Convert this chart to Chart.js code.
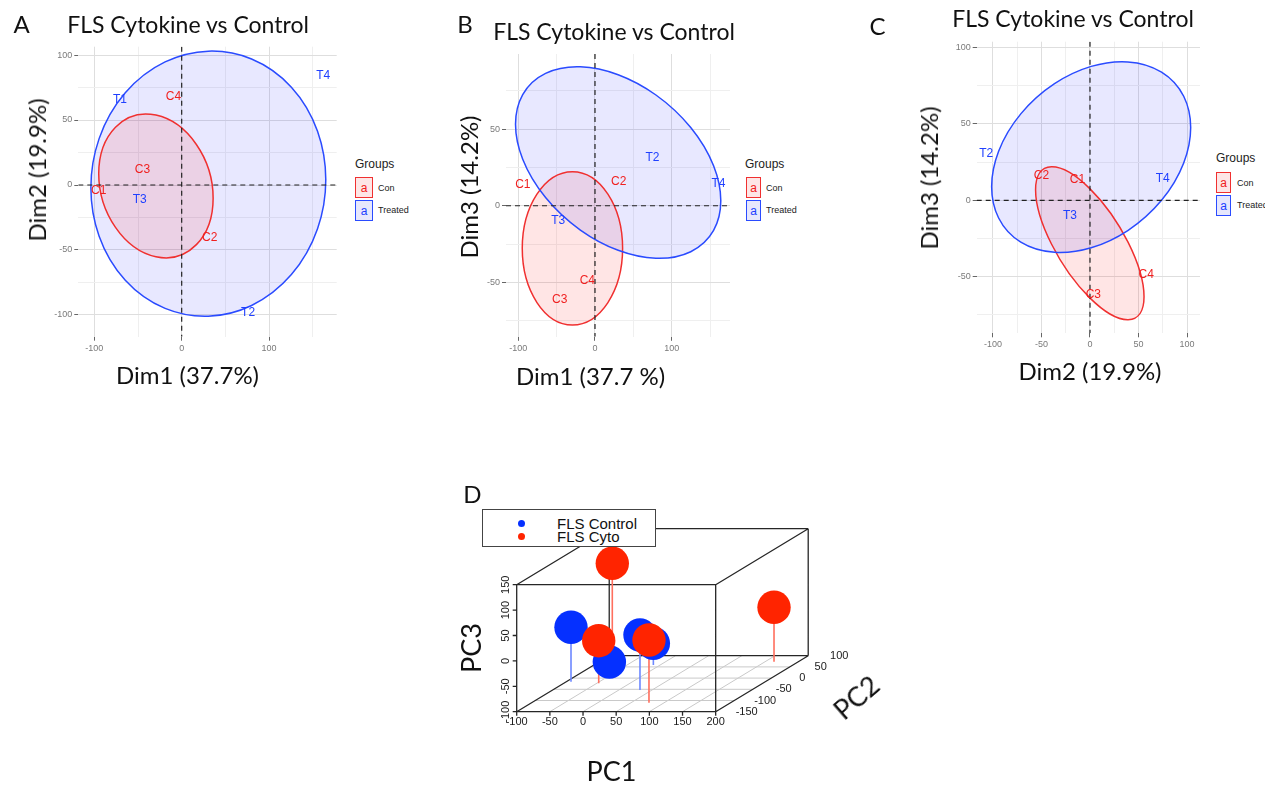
<!DOCTYPE html>
<html>
<head>
<meta charset="utf-8">
<title>FLS Cytokine vs Control PCA</title>
<script src="https://cdn.jsdelivr.net/npm/chart.js@4.4.1/dist/chart.umd.min.js"></script>
<style>
  body { margin: 0; width: 1265px; height: 786px; background: #fff; position: relative; overflow: hidden; }
  canvas { position: absolute; }
  .t { position: absolute; white-space: nowrap; line-height: 1; transform: translate(-50%, -50%); font-family: Lato, sans-serif; color: #111; }
  .rot { transform: translate(-50%, -50%) rotate(-90deg); }
  .lg { position: absolute; white-space: nowrap; line-height: 1; transform: translateY(-50%); font-family: "Liberation Sans", Arial, sans-serif; color: #222; }
  .key { position: absolute; box-sizing: border-box; border: 1.5px solid; display: flex; align-items: center; justify-content: center; font: 12px "Liberation Sans", Arial, sans-serif; }
  .key.con { border-color: #f03030; background: #fde6e6; color: #f02020; }
  .key.trt { border-color: #2a4bff; background: #e6e7fc; color: #2040ff; }
  #legD { position: absolute; left: 482px; top: 509px; width: 174px; height: 38px; box-sizing: border-box; border: 1px solid #444; background: #fff; }
  .dot { position: absolute; width: 7px; height: 7px; border-radius: 50%; }
</style>
</head>
<body>

<canvas id="panelA" width="345" height="370" style="left:0;top:0"></canvas>
<canvas id="panelB" width="310" height="370" style="left:430px;top:0"></canvas>
<canvas id="panelC" width="310" height="370" style="left:900px;top:0"></canvas>
<canvas id="panelD" width="440" height="316" style="left:460px;top:470px"></canvas>

<!-- panel A text -->
<div class="t" style="left:21.5px;top:23.5px;font-size:24px">A</div>
<div class="t" style="left:188px;top:24px;font-size:23px">FLS Cytokine vs Control</div>
<div class="t rot" style="left:36.7px;top:170px;font-size:24px">Dim2 (19.9%)</div>
<div class="t" style="left:187.5px;top:375px;font-size:24px">Dim1 (37.7%)</div>
<div class="lg" style="left:355px;top:164px;font-size:12px">Groups</div>
<div class="key con" style="left:355px;top:177px;width:18px;height:21px">a</div>
<div class="key trt" style="left:355px;top:200px;width:18px;height:21px">a</div>
<div class="lg" style="left:378px;top:188px;font-size:9px">Con</div>
<div class="lg" style="left:378px;top:210px;font-size:9px">Treated</div>

<!-- panel B text -->
<div class="t" style="left:465px;top:23.5px;font-size:24px">B</div>
<div class="t" style="left:614px;top:31px;font-size:23px">FLS Cytokine vs Control</div>
<div class="t rot" style="left:469px;top:187px;font-size:24px">Dim3 (14.2%)</div>
<div class="t" style="left:590.5px;top:376px;font-size:24px">Dim1 (37.7 %)</div>
<div class="lg" style="left:745px;top:164px;font-size:12px">Groups</div>
<div class="key con" style="left:746px;top:177px;width:15px;height:21px">a</div>
<div class="key trt" style="left:746px;top:200px;width:15px;height:21px">a</div>
<div class="lg" style="left:766px;top:188px;font-size:9px">Con</div>
<div class="lg" style="left:766px;top:210px;font-size:9px">Treated</div>

<!-- panel C text -->
<div class="t" style="left:877.5px;top:26px;font-size:24px">C</div>
<div class="t" style="left:1073px;top:17.5px;font-size:23px">FLS Cytokine vs Control</div>
<div class="t rot" style="left:929px;top:177.5px;font-size:24px">Dim3 (14.2%)</div>
<div class="t" style="left:1090px;top:371px;font-size:24px">Dim2 (19.9%)</div>
<div class="lg" style="left:1216px;top:158px;font-size:12px">Groups</div>
<div class="key con" style="left:1216px;top:172px;width:15px;height:21px">a</div>
<div class="key trt" style="left:1216px;top:195px;width:15px;height:21px">a</div>
<div class="lg" style="left:1237px;top:183px;font-size:9px">Con</div>
<div class="lg" style="left:1237px;top:205px;font-size:9px">Treated</div>

<!-- panel D text -->
<div class="t" style="left:472.5px;top:493.5px;font-size:24px">D</div>
<div id="legD">
  <div class="dot" style="left:35px;top:9.5px;background:#0530ff"></div>
  <div class="dot" style="left:35px;top:22.5px;background:#ff2400"></div>
  <div class="lg" style="left:74px;top:13px;font-size:15px;color:#111">FLS Control</div>
  <div class="lg" style="left:74px;top:26px;font-size:15px;color:#111">FLS Cyto</div>
</div>
<div class="t" style="left:611.5px;top:770px;font-size:27px">PC1</div>
<div class="t rot" style="left:470px;top:648px;font-size:27px">PC3</div>
<div class="t" style="left:856px;top:697px;font-size:27px;transform:translate(-50%,-50%) rotate(-41deg)">PC2</div>

<script>
// sample names
const conNames = ['C1', 'C2', 'C3', 'C4'];
const trtNamesA = ['T1', 'T2', 'T3', 'T4'];
const trtNamesBC = ['T2', 'T3', 'T4'];

// A: Dim1 vs Dim2 (label positions)
const conDim1A = [-95, 32, -45, -9.5];
const conDim2A = [-4, -40.5, 12, 68];
const trtDim1A = [-70.6, 76, -48, 162];
const trtDim2A = [65.9, -98, -11.5, 84];

// B: Dim1 vs Dim3
const conDim1B = [-94, 31, -46, -10];
const conDim3B = [14, 16, -61.5, -49];
const trtDim1B = [75, -48, 161];
const trtDim3B = [31.5, -10, 14.5];

// C: Dim2 vs Dim3
const conDim2C = [-13, -50, 3.4, 58];
const conDim3C = [13.8, 16, -62, -49];
const trtDim2C = [-107, -20.6, 75];
const trtDim3C = [30.8, -10, 14];

// concentration ellipses: [centre x, centre y, half-width x, half-height y, correlation]
const conEllipseA = [-29.5, -0.7, 65.5, 55.3, -0.17];
const trtEllipseA = [30.5, 1, 134.5, 102, 0.03];
const conEllipseB = [-29.4, -27.8, 65.4, 50, 0];
const trtEllipseB = [30.2, 28.2, 133.8, 62.5, -0.4];
const conEllipseC = [-0.2, -28.1, 55.9, 50.1, -0.7];
const trtEllipseC = [1.2, 28.3, 102.6, 62.5, 0.31];

// axis breaks
const dim1Major = [-100, 0, 100];
const dim1Minor = [-50, 50, 150];
const dimAyMajor = [-100, -50, 0, 50, 100];
const quarterMinor = [-75, -25, 25, 75];
const dimByMajor = [-50, 0, 50];
const dimCxMajor = [-100, -50, 0, 50, 100];
const dimCyMajor = [-50, 0, 50, 100];

// D: 3D PCA scores
const controlPC1 = [-92.9, 31.8, -50.7, -10.3];
const controlPC2 = [-16, -53.1, 12, 58.5];
const controlPC3 = [7.1, 8.3, -73.6, -57.3];
const cytoPC1 = [-76.4, 77, -47.1, 163.4];
const cytoPC2 = [66, -109.8, -23.2, 73.2];
const cytoPC3 = [96.9, 23.4, -16.1, 7.1];
const pc1Ticks = [-100, -50, 0, 50, 100, 150, 200];
const pc2Ticks = [-150, -100, -50, 0, 50, 100];
const pc3Ticks = [-100, -50, 0, 50, 100, 150];

const RED = '#f02020', BLUE = '#2040ff';
const RED_LINE = '#f03030', BLUE_LINE = '#2a4bff';
const RED_FILL = 'rgba(255,0,0,0.1)', BLUE_FILL = 'rgba(0,0,255,0.09)';

const zip = (xs, ys) => xs.map((x, i) => ({ x: x, y: ys[i] }));
const extras = {};

function traceEllipse(ctx, x, y, e) {
  const [cx, cy, rx, ry, r] = e;
  // conjugate half-axes in data units
  const u = [rx, r * ry], v = [0, ry * Math.sqrt(1 - r * r)];
  const px = x.getPixelForValue(cx), py = y.getPixelForValue(cy);
  const ux = x.getPixelForValue(cx + u[0]) - px, uy = y.getPixelForValue(cy + u[1]) - py;
  const vx = x.getPixelForValue(cx + v[0]) - px, vy = y.getPixelForValue(cy + v[1]) - py;
  ctx.save();
  ctx.beginPath();
  ctx.transform(ux, uy, vx, vy, px, py);
  ctx.arc(0, 0, 1, 0, Math.PI * 2);
  ctx.closePath();
  ctx.restore();
}

const panelDecor = {
  id: 'panelDecor',
  beforeDatasetsDraw(chart) {
    const { ctx, chartArea: a, scales: { x, y } } = chart;
    const ex = extras[chart.canvas.id];
    ctx.save();
    ctx.beginPath();
    ctx.rect(a.left, a.top, a.width, a.height);
    ctx.clip();
    ex.ellipses.forEach(e => {
      traceEllipse(ctx, x, y, e.shape);
      ctx.fillStyle = e.fill;
      ctx.fill();
    });
    ex.ellipses.forEach(e => {
      traceEllipse(ctx, x, y, e.shape);
      ctx.strokeStyle = e.line;
      ctx.lineWidth = 1.5;
      ctx.stroke();
    });
    // dashed reference lines through the origin
    ctx.strokeStyle = '#222';
    ctx.lineWidth = 1.2;
    ctx.setLineDash([5, 4]);
    const x0 = x.getPixelForValue(0), y0 = y.getPixelForValue(0);
    ctx.beginPath();
    ctx.moveTo(a.left, y0); ctx.lineTo(a.right, y0);
    ctx.moveTo(x0, a.top); ctx.lineTo(x0, a.bottom);
    ctx.stroke();
    ctx.restore();
  },
  afterDatasetsDraw(chart) {
    const ctx = chart.ctx;
    ctx.save();
    ctx.font = '12px "Liberation Sans", Arial, sans-serif';
    ctx.textAlign = 'center';
    ctx.textBaseline = 'middle';
    chart.data.datasets.forEach((ds, i) => {
      ctx.fillStyle = ds.textColor;
      chart.getDatasetMeta(i).data.forEach((pt, j) => ctx.fillText(ds.names[j], pt.x, pt.y));
    });
    ctx.restore();
  }
};

function axisOpts(range, major, minor, dir, size) {
  const all = major.concat(minor).sort((a, b) => a - b);
  return {
    type: 'linear', min: range[0], max: range[1],
    border: { display: false },
    afterBuildTicks: s => { s.ticks = all.map(v => ({ value: v })); },
    afterFit: s => { if (dir === 'x') s.height = size; else s.width = size; },
    grid: {
      color: c => major.includes(c.tick.value) ? '#dedede' : '#efefef',
      lineWidth: 1,
      tickLength: 4,
      tickColor: c => major.includes(c.tick.value) ? '#666' : 'rgba(0,0,0,0)'
    },
    ticks: {
      autoSkip: false, maxRotation: 0, minRotation: 0, padding: 2,
      color: '#7a7a7a', font: { family: 'Liberation Sans', size: 9 },
      callback: v => major.includes(v) ? String(v) : ''
    }
  };
}

function panelChart(id, p) {
  extras[id] = p;
  return new Chart(document.getElementById(id), {
    type: 'scatter',
    data: {
      datasets: [
        { names: conNames, textColor: RED, data: zip(p.conX, p.conY), pointRadius: 0, pointHoverRadius: 0 },
        { names: p.trtNames, textColor: BLUE, data: zip(p.trtX, p.trtY), pointRadius: 0, pointHoverRadius: 0 }
      ]
    },
    options: {
      responsive: false, animation: false, events: [],
      layout: { padding: p.pad },
      plugins: { legend: { display: false }, tooltip: { enabled: false } },
      scales: {
        x: axisOpts(p.xRange, p.xMajor, p.xMinor, 'x', 20),
        y: axisOpts(p.yRange, p.yMajor, p.yMinor, 'y', p.yWidth)
      }
    },
    plugins: [panelDecor]
  });
}

panelChart('panelA', {
  conX: conDim1A, conY: conDim2A, trtX: trtDim1A, trtY: trtDim2A, trtNames: trtNamesA,
  ellipses: [
    { shape: trtEllipseA, fill: BLUE_FILL, line: BLUE_LINE },
    { shape: conEllipseA, fill: RED_FILL, line: RED_LINE }
  ],
  xRange: [-118.4, 177.5], yRange: [-116.7, 106.4],
  xMajor: dim1Major, xMinor: dim1Minor, yMajor: dimAyMajor, yMinor: quarterMinor,
  yWidth: 78.3, pad: { left: 0, right: 8.3, top: 46.7, bottom: 13.3 }
});

panelChart('panelB', {
  conX: conDim1B, conY: conDim3B, trtX: trtDim1B, trtY: trtDim3B, trtNames: trtNamesBC,
  ellipses: [
    { shape: conEllipseB, fill: RED_FILL, line: RED_LINE },
    { shape: trtEllipseB, fill: BLUE_FILL, line: BLUE_LINE }
  ],
  xRange: [-116, 176], yRange: [-85.5, 99],
  xMajor: dim1Major, xMinor: dim1Minor, yMajor: dimByMajor, yMinor: quarterMinor,
  yWidth: 76, pad: { left: 0, right: 10, top: 54, bottom: 13.2 }
});

panelChart('panelC', {
  conX: conDim2C, conY: conDim3C, trtX: trtDim2C, trtY: trtDim3C, trtNames: trtNamesBC,
  ellipses: [
    { shape: conEllipseC, fill: RED_FILL, line: RED_LINE },
    { shape: trtEllipseC, fill: BLUE_FILL, line: BLUE_LINE }
  ],
  xRange: [-116.8, 113.4], yRange: [-87.1, 103.9],
  xMajor: dimCxMajor, xMinor: quarterMinor, yMajor: dimCyMajor, yMinor: quarterMinor,
  yWidth: 76.7, pad: { left: 0, right: 10, top: 41.7, bottom: 16.7 }
});

// ---- D: oblique 3D projection (PC2 runs into the page) ----
const pc1Lim = [-100, 200], pc2Lim = [-150, 100], pc3Lim = [-100, 150];
const depthX = 0.558, depthZ = 0.441;
function project(p1, p2, p3) {
  return { x: p1 + (p2 - pc2Lim[0]) * depthX, y: p3 + (p2 - pc2Lim[0]) * depthZ };
}
function scores(a, b, c) {
  return a.map((v, i) => Object.assign(project(v, b[i], c[i]), { pc: [v, b[i], c[i]] }));
}

const box3d = {
  id: 'box3d',
  beforeDatasetsDraw(chart) {
    const { ctx, scales: { x, y } } = chart;
    const px = (a, b, c) => { const p = project(a, b, c); return [x.getPixelForValue(p.x), y.getPixelForValue(p.y)]; };
    const seg = (p, q) => { ctx.moveTo(p[0], p[1]); ctx.lineTo(q[0], q[1]); };
    const [x0, x1] = pc1Lim, [y0, y1] = pc2Lim, [z0, z1] = pc3Lim;
    ctx.save();
    // floor grid
    ctx.strokeStyle = '#c9c9c9';
    ctx.lineWidth = 1;
    ctx.beginPath();
    pc1Ticks.filter(v => v > x0 && v < x1).forEach(v => seg(px(v, y0, z0), px(v, y1, z0)));
    pc2Ticks.filter(v => v > y0 && v < y1).forEach(v => seg(px(x0, v, z0), px(x1, v, z0)));
    ctx.stroke();
    // box edges
    ctx.strokeStyle = '#262626';
    ctx.lineWidth = 1.3;
    ctx.beginPath();
    [[x0, y0, z0, x1, y0, z0], [x1, y0, z0, x1, y0, z1], [x1, y0, z1, x0, y0, z1], [x0, y0, z1, x0, y0, z0],
     [x0, y1, z0, x1, y1, z0], [x1, y1, z0, x1, y1, z1], [x0, y1, z1, x1, y1, z1], [x0, y1, z0, x0, y1, z1],
     [x0, y0, z0, x0, y1, z0], [x1, y0, z0, x1, y1, z0], [x1, y0, z1, x1, y1, z1], [x0, y0, z1, x0, y1, z1]]
      .forEach(e => seg(px(e[0], e[1], e[2]), px(e[3], e[4], e[5])));
    // axis tick marks
    pc1Ticks.forEach(v => { const p = px(v, y0, z0); ctx.moveTo(p[0], p[1]); ctx.lineTo(p[0], p[1] + 4); });
    pc3Ticks.forEach(v => { const p = px(x0, y0, v); ctx.moveTo(p[0], p[1]); ctx.lineTo(p[0] - 4, p[1]); });
    ctx.stroke();
    // drop lines from each score to the floor
    ctx.lineWidth = 1.6;
    chart.data.datasets.forEach(ds => {
      ctx.strokeStyle = ds.stemColor;
      ctx.beginPath();
      ds.data.forEach(d => seg(px(d.pc[0], d.pc[1], d.pc[2]), px(d.pc[0], d.pc[1], z0)));
      ctx.stroke();
    });
    ctx.restore();
  },
  afterDatasetsDraw(chart) {
    const { ctx, scales: { x, y } } = chart;
    const px = (a, b, c) => { const p = project(a, b, c); return [x.getPixelForValue(p.x), y.getPixelForValue(p.y)]; };
    ctx.save();
    ctx.fillStyle = '#1a1a1a';
    ctx.font = '11px "Liberation Sans", Arial, sans-serif';
    ctx.textAlign = 'center';
    ctx.textBaseline = 'middle';
    pc1Ticks.forEach(v => { const p = px(v, pc2Lim[0], pc3Lim[0]); ctx.fillText(String(v), p[0], p[1] + 10); });
    pc2Ticks.forEach(v => { const p = px(pc1Lim[1], v, pc3Lim[0]); ctx.fillText(String(v), p[0] + 31, p[1]); });
    pc3Ticks.forEach(v => {
      const p = px(pc1Lim[0], pc2Lim[0], v);
      ctx.save();
      ctx.translate(p[0] - 11, p[1]);
      ctx.rotate(-Math.PI / 2);
      ctx.fillText(String(v), 0, 0);
      ctx.restore();
    });
    ctx.restore();
  }
};

new Chart(document.getElementById('panelD'), {
  type: 'scatter',
  data: {
    datasets: [
      { label: 'FLS Cyto', data: scores(cytoPC1, cytoPC2, cytoPC3), backgroundColor: '#ff2400',
        stemColor: '#ff6f5e', pointRadius: 16.7, pointBorderWidth: 0, pointHoverRadius: 16.7, clip: false },
      { label: 'FLS Control', data: scores(controlPC1, controlPC2, controlPC3), backgroundColor: '#0530ff',
        stemColor: '#6d88ff', pointRadius: 16.7, pointBorderWidth: 0, pointHoverRadius: 16.7, clip: false }
    ]
  },
  options: {
    responsive: false, animation: false, events: [],
    layout: { padding: { left: 56.7, right: 90, top: 59.3, bottom: 74.3 } },
    plugins: { legend: { display: false }, tooltip: { enabled: false } },
    scales: {
      x: { type: 'linear', display: false, min: -100, max: 342.2 },
      y: { type: 'linear', display: false, min: -100, max: 259.1 }
    }
  },
  plugins: [box3d]
});
</script>
</body>
</html>
